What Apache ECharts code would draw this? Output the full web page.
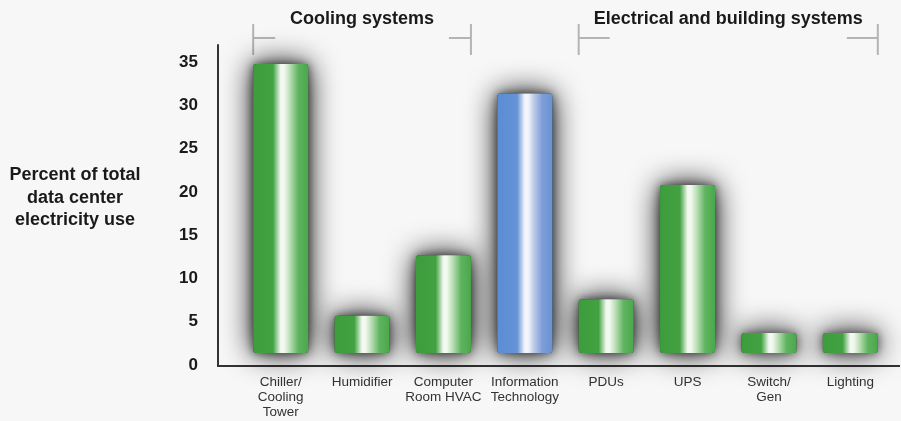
<!DOCTYPE html>
<html>
<head>
<meta charset="utf-8">
<script src="https://cdn.jsdelivr.net/npm/echarts@6/dist/echarts.min.js"></script>
<style>
  html, body { margin: 0; padding: 0; background: #f7f7f7; }
  #chart { width: 901px; height: 421px; }
</style>
</head>
<body>
<div id="chart"></div>
<script>
// Share of total data center electricity use, by subsystem
const categories = [
  'Chiller/\nCooling\nTower',
  'Humidifier',
  'Computer\nRoom HVAC',
  'Information\nTechnology',
  'PDUs',
  'UPS',
  'Switch/\nGen',
  'Lighting'
];
// top of each bar (percent)
const barTop = [34.8, 5.7, 12.7, 31.4, 7.6, 20.8, 3.7, 3.7];
// bars float slightly above the zero line
const barBase = [1.4, 1.4, 1.4, 1.4, 1.4, 1.4, 1.4, 1.4];
const itIndex = 3;

const groupNames = ['Cooling systems', 'Electrical and building systems'];
const groupFrom = [0, 4];
const groupTo = [2, 7];

const axisTitle = 'Percent of total\ndata center\nelectricity use';

const FONT = '"Liberation Sans", Arial, Helvetica, sans-serif';
const BAR_W = 55;

function cylinder(dark, mid, hi, soft, light, edge) {
  return {
    type: 'linear', x: 0, y: 0, x2: 1, y2: 0,
    colorStops: [
      { offset: 0, color: dark },
      { offset: 0.36, color: mid },
      { offset: 0.5, color: hi },
      { offset: 0.56, color: hi },
      { offset: 0.66, color: soft },
      { offset: 0.82, color: light },
      { offset: 1, color: edge }
    ]
  };
}
const greenFill = cylinder('#3d9d3d', '#42a242', '#f3f8f1', '#bfe0ba', '#5fb45f', '#4aa84a');
const blueFill = cylinder('#5a8dd3', '#6593d6', '#f3f5fb', '#c0cde9', '#7d9dd8', '#6992d5');

const heights = barTop.map((v, i) => +(v - barBase[i]).toFixed(2));

const chart = echarts.init(document.getElementById('chart'), null, { renderer: 'canvas' });

chart.setOption({
  backgroundColor: '#f7f7f7',
  animation: false,
  grid: { left: 240, right: 10, top: 45, bottom: 56 },
  xAxis: {
    type: 'category',
    data: categories,
    axisLine: { show: false },
    axisTick: { show: false },
    axisLabel: {
      interval: 0,
      margin: 10,
      fontFamily: FONT,
      fontSize: 13.5,
      lineHeight: 15,
      color: '#333'
    }
  },
  yAxis: {
    type: 'value',
    min: 0,
    max: 37,
    interval: 5,
    offset: 22,
    splitLine: { show: false },
    axisTick: { show: false },
    axisLine: { show: true, lineStyle: { color: '#333', width: 2 } },
    axisLabel: {
      margin: 20,
      fontFamily: FONT,
      fontSize: 17,
      fontWeight: 'bold',
      color: '#1a1a1a',
      formatter: v => (v % 5 === 0 ? String(v) : '')
    }
  },
  series: [
    // dark halo drawn behind each cylinder
    {
      type: 'bar',
      stack: 'halo',
      barWidth: BAR_W,
      silent: true,
      itemStyle: { color: 'rgba(0,0,0,0)' },
      data: barBase
    },
    {
      type: 'bar',
      stack: 'halo',
      barWidth: BAR_W,
      silent: true,
      itemStyle: {
        color: '#444',
        borderRadius: 3,
        shadowBlur: 30,
        shadowColor: 'rgba(0,0,0,1)'
      },
      data: heights
    },
    // the cylinders themselves
    {
      type: 'bar',
      stack: 'use',
      barWidth: BAR_W,
      barGap: '-100%',
      silent: true,
      itemStyle: { color: 'rgba(0,0,0,0)' },
      data: barBase
    },
    {
      type: 'bar',
      stack: 'use',
      barWidth: BAR_W,
      barGap: '-100%',
      itemStyle: {
        borderRadius: 3,
        shadowBlur: 10,
        shadowColor: 'rgba(0,0,0,0.55)'
      },
      data: heights.map((h, i) => ({
        value: h,
        itemStyle: { color: i === itIndex ? blueFill : greenFill }
      }))
    }
  ]
});

// axis baseline, group brackets and the side title
const zeroY = chart.convertToPixel({ yAxisIndex: 0 }, 0);
const axisX = 218;
const graphics = [
  {
    type: 'line',
    shape: { x1: axisX - 1, y1: zeroY + 1, x2: 900, y2: zeroY + 1 },
    style: { stroke: '#333', lineWidth: 2 }
  },
  {
    type: 'text',
    style: {
      text: axisTitle,
      x: 75, y: 198,
      align: 'center', verticalAlign: 'middle',
      font: 'bold 18px ' + FONT,
      lineHeight: 22.5,
      fill: '#1a1a1a'
    }
  }
];
const armLen = [22, 31];
groupNames.forEach((name, g) => {
  const xl = chart.convertToPixel({ xAxisIndex: 0 }, groupFrom[g]) - BAR_W / 2;
  const xr = chart.convertToPixel({ xAxisIndex: 0 }, groupTo[g]) + BAR_W / 2;
  const line = { stroke: '#b4b4b4', lineWidth: 2 };
  graphics.push(
    { type: 'line', shape: { x1: xl, y1: 24, x2: xl, y2: 55 }, style: line },
    { type: 'line', shape: { x1: xl, y1: 38, x2: xl + armLen[g], y2: 38 }, style: line },
    { type: 'line', shape: { x1: xr, y1: 24, x2: xr, y2: 55 }, style: line },
    { type: 'line', shape: { x1: xr - armLen[g], y1: 38, x2: xr, y2: 38 }, style: line },
    {
      type: 'text',
      style: {
        text: name,
        x: (xl + xr) / 2, y: 19,
        align: 'center', verticalAlign: 'middle',
        font: 'bold 18px ' + FONT,
        fill: '#1a1a1a'
      }
    }
  );
});
chart.setOption({ graphic: graphics });
</script>
</body>
</html>
